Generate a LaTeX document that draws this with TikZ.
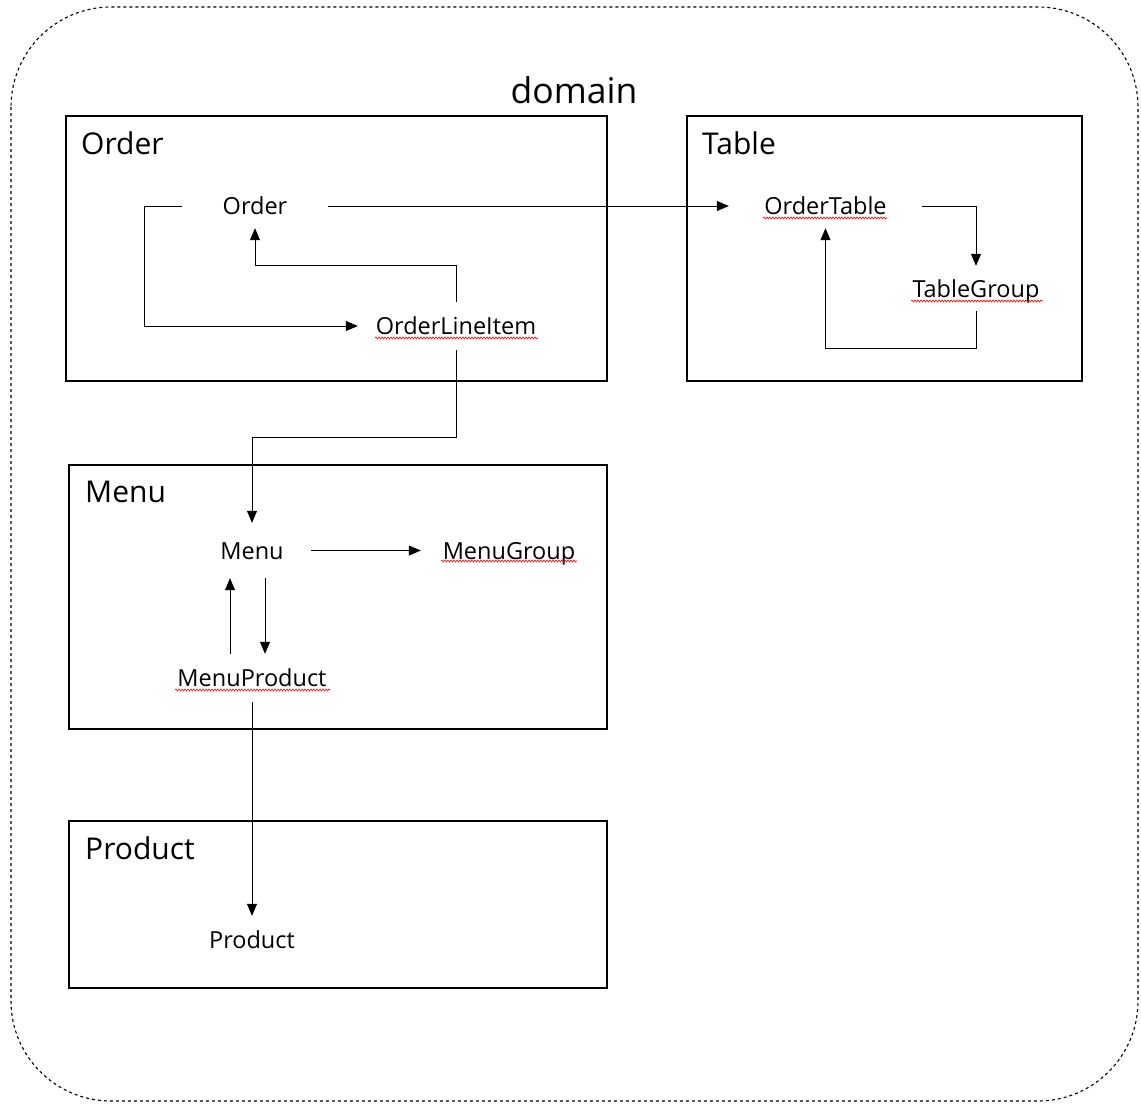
\documentclass[tikz,border=0pt]{standalone}
\usepackage{fontspec}
\setmainfont{Open Sans}
\usetikzlibrary{arrows.meta,decorations.pathmorphing}

\begin{document}
\begin{tikzpicture}[x=1pt, y=-1pt,
  box/.style={draw, line width=1.6pt},
  title/.style={anchor=west, inner sep=0pt, font=\fontsize{30}{34}\selectfont},
  cls/.style={inner sep=0pt, text height=20pt, text depth=3pt, font=\fontsize{23.5}{27}\selectfont},
  link/.style={line width=0.8pt, -{Triangle[length=12pt,width=10pt]}},
  typo/.style={red, line width=0.6pt, decorate, decoration={snake, amplitude=1pt, segment length=3pt}}]
\useasboundingbox (0,0) rectangle (1141,1106);
\draw[dashed, line width=1.1pt, rounded corners=100pt] (11,7) rectangle (1138,1101);
\node (domain) at (574,90) {\fontsize{35.5}{40}\selectfont domain};
% boxes
\draw[box] (66,116) rectangle (607,381);
\node[title] (orderT) at (81,143) {Order};
\draw[box] (687,116) rectangle (1082,381);
\node[title] (tableT) at (702,143) {Table};
\draw[box] (69,465) rectangle (607,729);
\node[title] (menuT) at (85,492) {Menu};
\draw[box] (69,821) rectangle (607,988);
\node[title] (productT) at (85,848) {Product};
% classes
\node[cls, minimum width=146, minimum height=44] (Order) at (255,206) {Order};
\node[cls, minimum width=196, minimum height=48] (OrderLineItem) at (456,326) {OrderLineItem};
\node[cls, minimum width=193, minimum height=44] (OrderTable) at (825.5,206) {OrderTable};
\node[cls, minimum width=100, minimum height=45] (TableGroup) at (976,288.5) {TableGroup};
\node[cls, minimum width=118, minimum height=55] (Menu) at (252,550.5) {Menu};
\node[cls, minimum width=176, minimum height=40] (MenuGroup) at (509,550.5) {MenuGroup};
\node[cls, minimum width=160, minimum height=48] (MenuProduct) at (252,678) {MenuProduct};
\node[cls, minimum width=100, minimum height=48] (Product) at (252,940) {Product};
% spelling marks
\draw[typo] (375,338) -- (538,338);
\draw[typo] (763,218) -- (887,218);
\draw[typo] (911,301) -- (1043,301);
\draw[typo] (441,561) -- (577,561);
\draw[typo] (175,690) -- (330,690);
% links
\draw[link] (Order.west) -- ++(-37,0) |- (OrderLineItem.west);
\draw[link] (OrderLineItem.north) -- ++(0,-36) -| (Order.south);
\draw[link] (Order.east) -- (OrderTable.west);
\draw[link] (OrderLineItem.south) -- ++(0,87) -| (Menu.north);
\draw[link] (OrderTable.east) -| (TableGroup.north);
\draw[link] (TableGroup.south) -- ++(0,37) -| (OrderTable.south);
\draw[link] (Menu.east) -- (MenuGroup.west);
\draw[link] ([xshift=13pt]Menu.south) -- ([xshift=13pt]MenuProduct.north);
\draw[link] ([xshift=-22pt]MenuProduct.north) -- ([xshift=-22pt]Menu.south);
\draw[link] (MenuProduct.south) -- (Product.north);
\end{tikzpicture}
\end{document}
